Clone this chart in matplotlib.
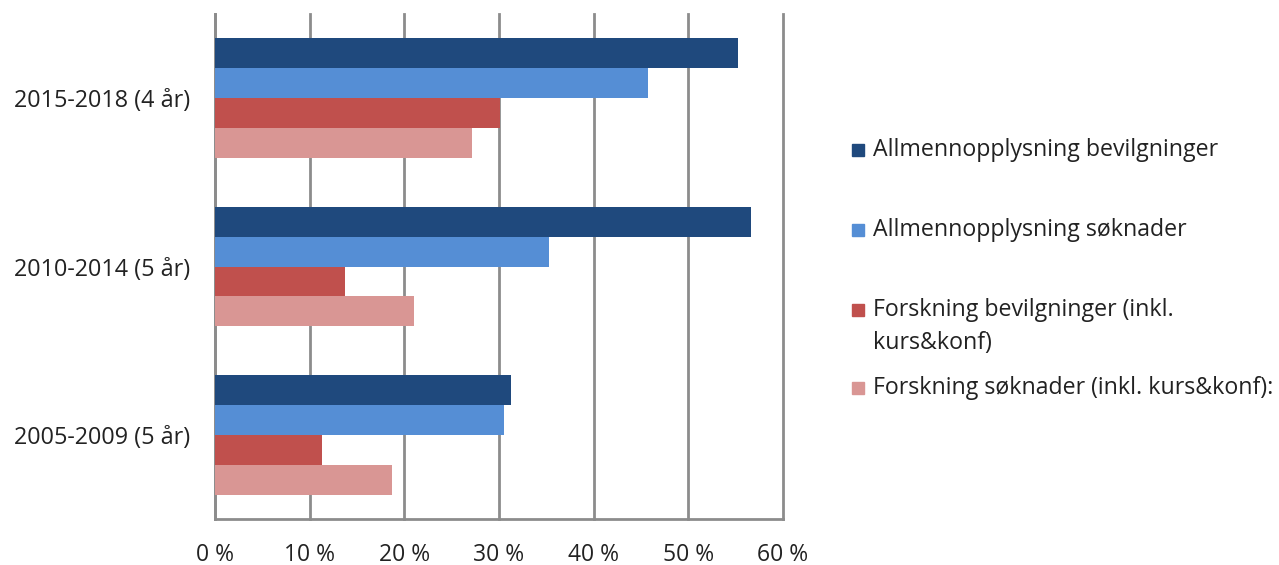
import matplotlib
matplotlib.use("Agg")
import matplotlib.pyplot as plt
import numpy as np
from matplotlib.patches import Rectangle

categories = ["2005-2009 (5 år)", "2010-2014 (5 år)", "2015-2018 (4 år)"]
series_labels = ["Allmennopplysning bevilgninger",
                 "Allmennopplysning søknader",
                 "Forskning bevilgninger (inkl.\nkurs&konf)",
                 "Forskning søknader (inkl. kurs&konf):"]
allm_bev = [31.3, 56.6, 55.2]
allm_sok = [30.5, 35.3, 45.7]
fors_bev = [11.3, 13.7, 30.1]
fors_sok = [18.7, 21.0, 27.2]
xticks = [0, 10, 20, 30, 40, 50, 60]
xticklabels = ["0 %", "10 %", "20 %", "30 %", "40 %", "50 %", "60 %"]

colors = ["#1F497D", "#558ED5", "#C0504D", "#D99694"]

plt.rcParams['font.family'] = ['Open Sans', 'DejaVu Sans']
W, H = 1279, 565
fig = plt.figure(figsize=(W/100, H/100), dpi=100)
ax = fig.add_axes([215/W, 1-519/H, (783-215)/W, (519-14)/H])

y = np.arange(len(categories))
h = 0.178
data = [allm_bev, allm_sok, fors_bev, fors_sok]
offsets = [1.5, 0.5, -0.5, -1.5]
for vals, off, c, lab in zip(data, offsets, colors, series_labels):
    ax.barh(y + off*h, vals, height=h, color=c, label=lab, zorder=3)

ax.set_xlim(0, 60)
ax.set_ylim(-0.5, 2.5)
ax.set_xticks(xticks)
ax.set_xticklabels(xticklabels, fontsize=16.5, color='#222222')
ax.set_yticks(y)
ax.set_yticklabels(categories, fontsize=16.8, color='#222222')
ax.tick_params(axis='x', length=0, pad=17)
ax.tick_params(axis='y', length=0, pad=18)
ax.grid(axis='x', color='#8c8c8c', linewidth=2, zorder=0)
for gl in ax.get_xgridlines():
    gl.set_clip_on(False)
for s in ['top', 'right']:
    ax.spines[s].set_visible(False)
for s in ['left', 'bottom']:
    ax.spines[s].set_color('#8c8c8c')
    ax.spines[s].set_linewidth(2)

# legend (Excel-style placement): marker rows and text-centre rows in pixels
marker_y = [150, 230, 310, 388]
text_y = [150, 230, 326.5, 388]
for lab, c, my, ty in zip(series_labels, colors, marker_y, text_y):
    fig.patches.append(Rectangle((852/W, 1 - my/H - 6/H), 12/W, 12/H,
                                 transform=fig.transFigure, color=c))
    fig.text(873/W, 1 - ty/H, lab, fontsize=16.7, color='#222222',
             va='center', ha='left', linespacing=1.45)

fig.savefig("out.png", dpi=100, facecolor='white')
